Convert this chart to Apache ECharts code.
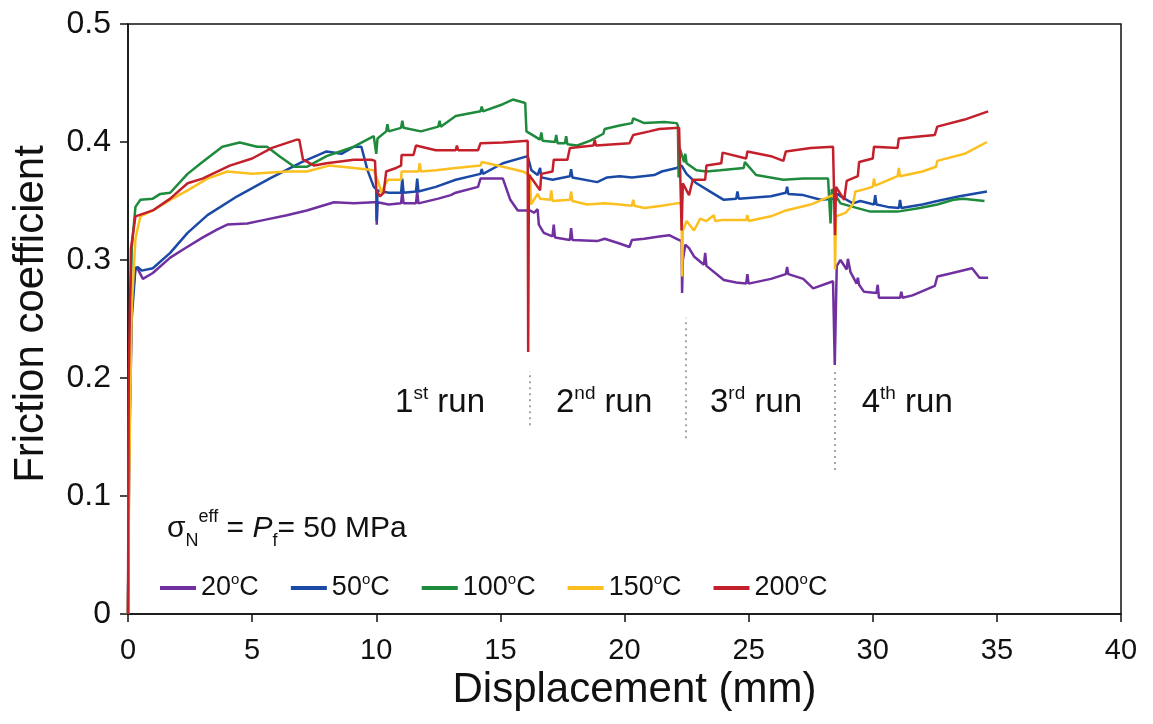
<!DOCTYPE html>
<html>
<head>
<meta charset="utf-8">
<script src="https://cdn.jsdelivr.net/npm/echarts@6/dist/echarts.min.js"></script>
<style>html,body{margin:0;padding:0;background:#fff}#c{width:1153px;height:724px}</style>
</head>
<body>
<div id="c"></div>
<script>
// ---- data ----
const temps = [20, 50, 100, 150, 200];
const xTicks = [0, 5, 10, 15, 20, 25, 30, 35, 40];
const yTicks = [0, 0.1, 0.2, 0.3, 0.4, 0.5];

const s20 = [[0,0],[0.05,0.15],[0.15,0.26],[0.3,0.294],[0.4,0.292],[0.6,0.284],[1.0,0.289],[1.7,0.302],[2.3,0.31],[3.0,0.319],[3.6,0.326],[4.0,0.330],[4.8,0.331],[5.5,0.334],[6.4,0.338],[7.2,0.342],[8.3,0.349],[9.1,0.348],[9.9,0.349],[10.0,0.349],[10.02,0.33],[10.05,0.349],[10.5,0.347],[11.0,0.348],[11.05,0.358],[11.1,0.348],[11.6,0.348],[11.65,0.358],[11.7,0.348],[12.5,0.352],[13.0,0.355],[13.2,0.357],[14.1,0.362],[14.2,0.369],[15.1,0.369],[15.4,0.351],[15.7,0.342],[16.2,0.342],[16.35,0.340],[16.5,0.343],[16.55,0.33],[16.75,0.323],[17.1,0.32],[17.15,0.33],[17.2,0.319],[17.8,0.317],[17.85,0.327],[17.9,0.317],[18.9,0.316],[19.2,0.318],[19.8,0.314],[20.2,0.311],[20.3,0.317],[20.8,0.318],[21.4,0.320],[21.8,0.321],[22.1,0.318],[22.3,0.316],[22.32,0.272],[22.35,0.30],[22.45,0.313],[22.6,0.31],[22.8,0.303],[23.2,0.296],[23.25,0.306],[23.3,0.295],[24.0,0.283],[24.5,0.281],[24.9,0.280],[24.95,0.288],[25.0,0.280],[25.9,0.284],[26.5,0.288],[26.55,0.294],[26.6,0.288],[27.2,0.284],[27.6,0.276],[28.4,0.282],[28.45,0.282],[28.47,0.211],[28.55,0.295],[28.7,0.300],[28.95,0.292],[29.0,0.301],[29.1,0.29],[29.35,0.280],[29.4,0.285],[29.45,0.279],[29.65,0.273],[30.15,0.272],[30.2,0.279],[30.25,0.268],[31.1,0.268],[31.15,0.273],[31.2,0.268],[31.6,0.270],[32.5,0.278],[32.6,0.286],[33.0,0.288],[34.0,0.293],[34.3,0.285],[34.65,0.285]];

const s50 = [[0,0],[0.05,0.14],[0.15,0.25],[0.3,0.293],[0.4,0.294],[0.55,0.291],[1.0,0.293],[1.7,0.306],[2.4,0.323],[3.2,0.338],[4.4,0.354],[5.7,0.369],[7.0,0.383],[8.0,0.392],[8.6,0.39],[9.1,0.396],[9.4,0.396],[9.65,0.376],[9.9,0.362],[10.0,0.36],[10.02,0.333],[10.05,0.359],[10.5,0.357],[11.0,0.357],[11.05,0.369],[11.1,0.357],[11.6,0.358],[11.65,0.369],[11.7,0.358],[12.4,0.362],[13.2,0.368],[14.2,0.373],[14.25,0.377],[14.3,0.373],[15.1,0.382],[16.1,0.388],[16.15,0.388],[16.25,0.376],[16.5,0.372],[16.6,0.378],[16.65,0.370],[17.1,0.368],[17.8,0.371],[17.85,0.377],[17.9,0.370],[18.9,0.366],[19.3,0.370],[19.8,0.371],[20.3,0.370],[21.2,0.372],[21.5,0.375],[22.1,0.378],[22.3,0.380],[22.5,0.373],[22.9,0.365],[23.45,0.358],[24.0,0.351],[24.5,0.352],[24.55,0.358],[24.6,0.352],[25.9,0.354],[26.5,0.357],[26.55,0.362],[26.6,0.356],[27.2,0.355],[27.9,0.351],[28.4,0.352],[28.6,0.356],[28.7,0.354],[29.2,0.348],[29.5,0.35],[30.05,0.347],[30.1,0.355],[30.15,0.347],[30.6,0.345],[31.05,0.344],[31.1,0.351],[31.15,0.344],[32.0,0.347],[32.6,0.350],[33.5,0.354],[34.6,0.358]];

const s100 = [[0,0],[0.05,0.2],[0.15,0.31],[0.3,0.345],[0.5,0.351],[1.0,0.352],[1.3,0.356],[1.7,0.357],[2.4,0.373],[3.0,0.383],[3.8,0.396],[4.5,0.3995],[5.2,0.396],[5.6,0.396],[6.1,0.388],[6.7,0.379],[7.2,0.379],[8.0,0.388],[9.1,0.396],[9.9,0.405],[9.95,0.405],[10.0,0.39],[10.05,0.403],[10.4,0.409],[10.45,0.415],[10.5,0.409],[11.0,0.412],[11.05,0.418],[11.1,0.412],[11.8,0.409],[12.5,0.413],[12.55,0.418],[12.6,0.413],[13.2,0.422],[14.2,0.426],[14.25,0.430],[14.3,0.426],[15.1,0.432],[15.5,0.436],[16.0,0.433],[16.05,0.409],[16.6,0.402],[16.65,0.408],[16.7,0.401],[17.2,0.400],[17.25,0.406],[17.3,0.399],[17.6,0.399],[17.65,0.405],[17.7,0.398],[18.1,0.397],[18.6,0.401],[19.15,0.407],[19.2,0.411],[19.8,0.414],[20.3,0.416],[20.35,0.42],[20.8,0.416],[21.6,0.417],[22.1,0.416],[22.15,0.414],[22.18,0.37],[22.22,0.395],[22.4,0.383],[22.45,0.39],[22.5,0.382],[22.9,0.376],[23.3,0.375],[23.85,0.376],[24.8,0.378],[24.85,0.383],[25.3,0.372],[26.4,0.368],[27.2,0.369],[28.2,0.369],[28.27,0.369],[28.3,0.331],[28.35,0.36],[28.7,0.348],[29.2,0.345],[29.9,0.341],[31.0,0.341],[31.9,0.344],[32.6,0.347],[33.25,0.351],[33.65,0.352],[34.5,0.350]];

const s150 = [[0,0],[0.05,0.12],[0.15,0.26],[0.3,0.318],[0.5,0.337],[1.0,0.342],[1.7,0.351],[2.4,0.359],[3.2,0.369],[4.0,0.375],[5.0,0.373],[6.4,0.375],[7.2,0.375],[8.1,0.380],[9.1,0.378],[9.9,0.376],[10.1,0.365],[10.2,0.357],[10.4,0.366],[10.5,0.368],[11.0,0.368],[11.02,0.375],[11.7,0.375],[11.75,0.382],[11.8,0.375],[12.4,0.376],[13.2,0.378],[14.2,0.380],[14.25,0.383],[15.1,0.379],[15.9,0.375],[16.2,0.372],[16.23,0.347],[16.5,0.356],[16.6,0.352],[17.0,0.351],[17.05,0.359],[17.1,0.350],[17.8,0.351],[17.85,0.358],[17.9,0.350],[18.5,0.347],[19.2,0.348],[19.8,0.347],[20.3,0.346],[20.35,0.351],[20.4,0.346],[20.8,0.344],[21.5,0.346],[22.1,0.348],[22.3,0.348],[22.32,0.286],[22.35,0.325],[22.5,0.333],[22.8,0.325],[23.05,0.335],[23.3,0.333],[23.6,0.338],[23.65,0.333],[24.0,0.334],[24.9,0.334],[24.95,0.338],[25.0,0.333],[25.9,0.337],[26.5,0.342],[27.5,0.347],[28.4,0.355],[28.45,0.352],[28.48,0.292],[28.52,0.337],[28.9,0.340],[29.2,0.347],[29.3,0.358],[29.5,0.359],[30.0,0.362],[30.05,0.369],[30.1,0.363],[31.0,0.371],[31.05,0.378],[31.1,0.371],[32.0,0.375],[32.55,0.379],[32.6,0.384],[33.7,0.390],[34.6,0.4]];

const s200 = [[0,0],[0.03,0.2],[0.12,0.31],[0.3,0.337],[1.0,0.342],[1.7,0.352],[2.4,0.365],[3.0,0.369],[4.1,0.380],[5.0,0.386],[5.8,0.395],[6.8,0.402],[6.9,0.402],[7.05,0.385],[7.5,0.380],[8.0,0.382],[9.1,0.385],[9.8,0.385],[9.95,0.384],[10.0,0.359],[10.15,0.354],[10.3,0.357],[10.4,0.375],[10.8,0.378],[11.0,0.380],[11.02,0.389],[11.5,0.389],[11.6,0.397],[12.4,0.393],[13.2,0.393],[13.25,0.397],[13.3,0.393],[14.1,0.393],[14.2,0.399],[15.1,0.3995],[16.1,0.401],[16.12,0.222],[16.15,0.372],[16.3,0.368],[16.6,0.359],[16.65,0.373],[17.1,0.375],[17.15,0.385],[17.7,0.385],[17.8,0.395],[18.75,0.397],[18.8,0.402],[18.85,0.397],[20.2,0.399],[20.35,0.406],[21.0,0.409],[21.4,0.411],[22.2,0.412],[22.28,0.412],[22.3,0.325],[22.35,0.365],[22.6,0.355],[22.75,0.368],[23.25,0.368],[23.3,0.380],[23.9,0.382],[23.95,0.391],[24.9,0.386],[24.95,0.392],[25.9,0.388],[26.4,0.384],[26.5,0.392],[27.5,0.395],[28.4,0.396],[28.45,0.396],[28.48,0.321],[28.52,0.362],[28.85,0.351],[28.95,0.367],[29.4,0.371],[29.45,0.383],[30.0,0.386],[30.05,0.396],[31.0,0.395],[31.05,0.403],[32.5,0.406],[32.6,0.413],[33.7,0.419],[34.65,0.426]];

const seriesData = [s20, s50, s100, s150, s200];
const runOrdinals = [['1','st'], ['2','nd'], ['3','rd'], ['4','th']];
const runLabelAnchors = [[12.57, 0.179], [19.18, 0.179], [25.3, 0.179], [31.39, 0.179]];
const runSeparators = [[16.2, 0.160, 0.206], [22.45, 0.149, 0.251], [28.45, 0.122, 0.205]];

// ---- styles ----
const colors = ['#7030a0', '#1b4aa6', '#1e8a3c', '#fbbf1f', '#c3202b'];
const FONT = 'Liberation Sans, Arial, Helvetica, sans-serif';

const chart = echarts.init(document.getElementById('c'));

const lineSeries = temps.map((t, i) => ({
  name: t + '°C',
  type: 'line',
  data: seriesData[i],
  showSymbol: false,
  symbol: 'none',
  lineStyle: { color: colors[i], width: 2.5 },
  itemStyle: { color: colors[i] },
  animation: false,
  z: 2 + i
}));

const helper = {
  name: 'runs',
  type: 'line',
  data: [],
  silent: true,
  animation: false,
  markLine: {
    silent: true,
    symbol: 'none',
    animation: false,
    lineStyle: { color: '#888', type: [2, 4], width: 1.5 },
    label: { show: false },
    data: runSeparators.map(s => [{ coord: [s[0], s[1]] }, { coord: [s[0], s[2]] }])
  },
  markPoint: {
    silent: true,
    animation: false,
    symbol: 'circle',
    symbolSize: 0,
    label: {
      show: true,
      position: 'inside',
      color: '#111',
      fontFamily: FONT,
      fontSize: 33,
      rich: {
        n: { fontSize: 33, fontFamily: FONT, color: '#111', lineHeight: 38 },
        s: { fontSize: 19, fontFamily: FONT, color: '#111', verticalAlign: 'top', lineHeight: 38 }
      }
    },
    data: runOrdinals.map((r, i) => ({
      coord: runLabelAnchors[i],
      label: { formatter: '{n|' + r[0] + '}{s|' + r[1] + '}{n| run}' }
    }))
  }
};

chart.setOption({
  animation: false,
  backgroundColor: '#fff',
  grid: { left: 128, right: 32, top: 24, bottom: 110, containLabel: false, outerBoundsMode: 'none', show: true, borderColor: '#111', borderWidth: 1.5, backgroundColor: 'transparent' },
  xAxis: {
    type: 'value', min: xTicks[0], max: xTicks[xTicks.length - 1], interval: 5,
    name: 'Displacement (mm)', nameLocation: 'middle', nameGap: 53,
    nameTextStyle: { fontSize: 42, fontFamily: FONT, color: '#111', padding: [0, 0, 0, 20] },
    axisLine: { show: true, onZero: false, lineStyle: { color: '#111', width: 1.5 } },
    axisTick: { show: true, inside: false, length: 8, lineStyle: { color: '#111', width: 1.5 } },
    axisLabel: { fontSize: 29, fontFamily: FONT, color: '#111', margin: 22 },
    splitLine: { show: false }
  },
  yAxis: {
    type: 'value', min: yTicks[0], max: yTicks[yTicks.length - 1], interval: 0.1,
    name: 'Friction coefficient', nameLocation: 'middle', nameGap: 76, nameRotate: 90,
    nameTextStyle: { fontSize: 42, fontFamily: FONT, color: '#111', padding: [0, 0, 0, 10] },
    axisLine: { show: true, onZero: false, lineStyle: { color: '#111', width: 1.5 } },
    axisTick: { show: true, inside: false, length: 8, lineStyle: { color: '#111', width: 1.5 } },
    axisLabel: { fontSize: 32, fontFamily: FONT, color: '#111', margin: 17, formatter: v => String(+v.toFixed(1)) },
    splitLine: { show: false }
  },
  legend: {
    data: temps.map(t => t + '°C'),
    left: 155, top: 567,
    icon: 'rect', itemWidth: 36, itemHeight: 4, itemGap: 32,
    textStyle: {
      fontSize: 26, fontFamily: FONT, color: '#111',
      rich: {
        n: { fontSize: 27, fontFamily: FONT, color: '#111', lineHeight: 32 },
        s: { fontSize: 15, fontFamily: FONT, color: '#111', verticalAlign: 'top', lineHeight: 32 }
      }
    },
    formatter: name => '{n|' + name.replace('°C', '') + '}{s|o}{n|C}'
  },
  graphic: [{
    type: 'text',
    left: 167, top: 508,
    style: {
      text: '{a|σ}{sub|N}{sup|eff}{a| = }{i|P}{sub|f}{a|= 50 MPa}',
      rich: {
        a: { fontSize: 30, fontFamily: FONT, fill: '#111', lineHeight: 42 },
        i: { fontSize: 30, fontFamily: FONT, fontStyle: 'italic', fill: '#111', lineHeight: 42 },
        sub: { fontSize: 18, fontFamily: FONT, fill: '#111', verticalAlign: 'bottom', lineHeight: 42 },
        sup: { fontSize: 18, fontFamily: FONT, fill: '#111', verticalAlign: 'top', lineHeight: 42 }
      }
    }
  }],
  series: lineSeries.concat([helper])
});
</script>
</body>
</html>
